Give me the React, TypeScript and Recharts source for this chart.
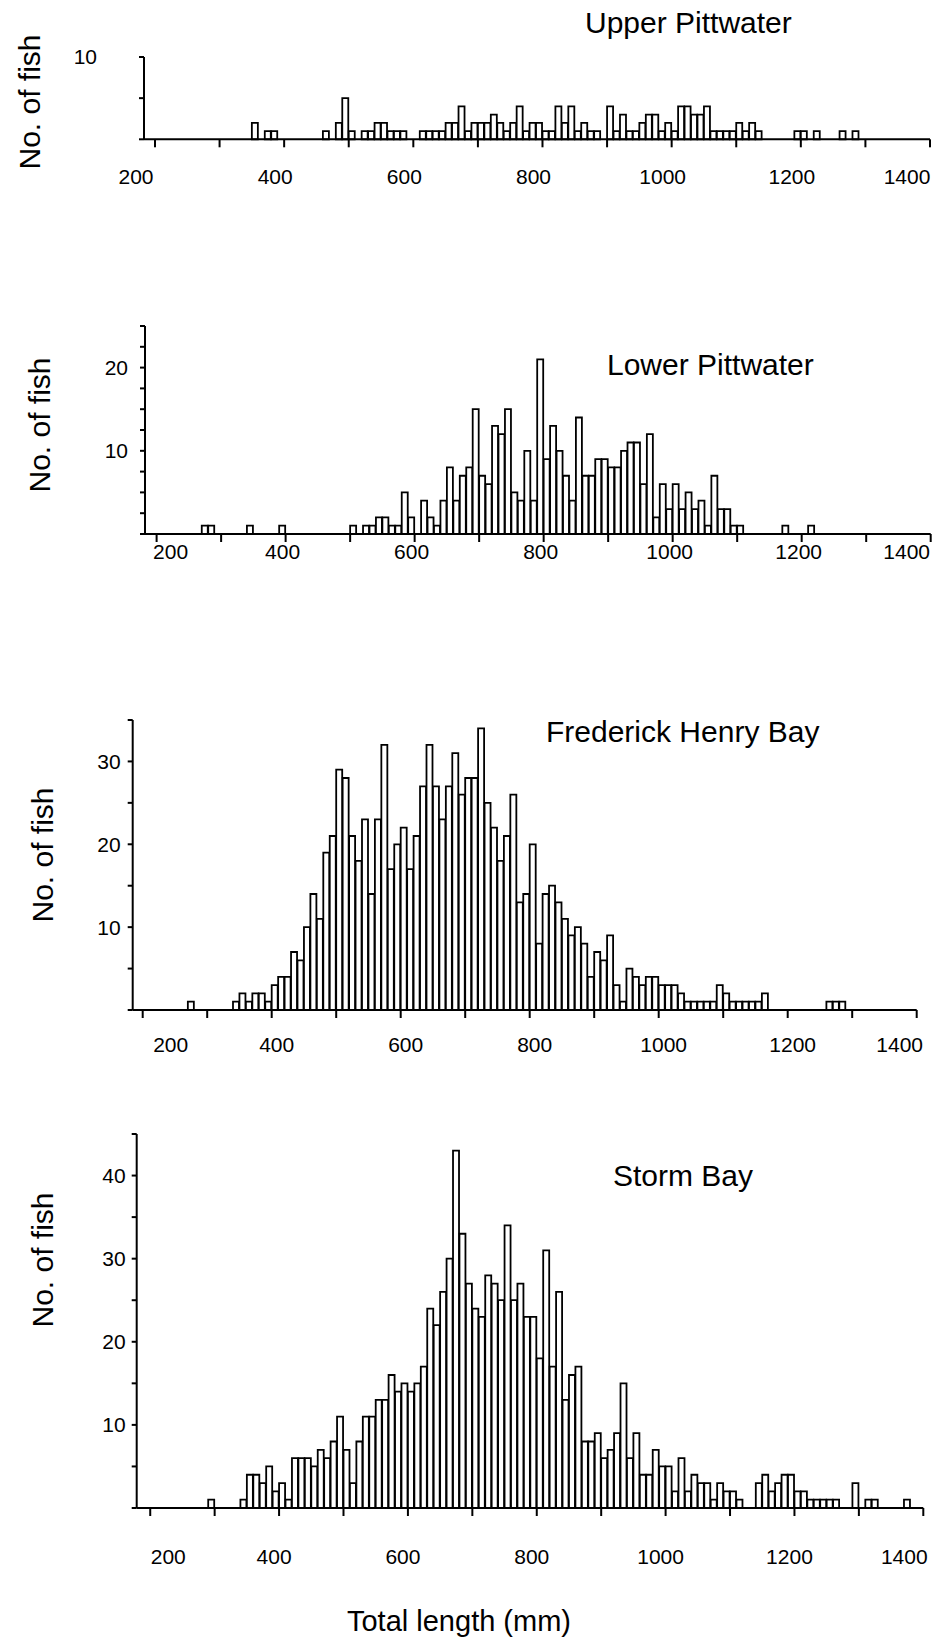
import { BarChart, Bar, XAxis, YAxis } from 'recharts'

// 10 mm length classes (class start, mm)
const bins = [
  200, 210, 220, 230, 240, 250, 260, 270, 280, 290,
  300, 310, 320, 330, 340, 350, 360, 370, 380, 390,
  400, 410, 420, 430, 440, 450, 460, 470, 480, 490,
  500, 510, 520, 530, 540, 550, 560, 570, 580, 590,
  600, 610, 620, 630, 640, 650, 660, 670, 680, 690,
  700, 710, 720, 730, 740, 750, 760, 770, 780, 790,
  800, 810, 820, 830, 840, 850, 860, 870, 880, 890,
  900, 910, 920, 930, 940, 950, 960, 970, 980, 990,
  1000, 1010, 1020, 1030, 1040, 1050, 1060, 1070, 1080, 1090,
  1100, 1110, 1120, 1130, 1140, 1150, 1160, 1170, 1180, 1190,
  1200, 1210, 1220, 1230, 1240, 1250, 1260, 1270, 1280, 1290,
  1300, 1310, 1320, 1330, 1340, 1350, 1360, 1370, 1380, 1390,
]

const upperPittwater = [
  0, 0, 0, 0, 0, 0, 0, 0, 0, 0,
  0, 0, 0, 0, 0, 2, 0, 1, 1, 0,
  0, 0, 0, 0, 0, 0, 1, 0, 2, 5,
  1, 0, 1, 1, 2, 2, 1, 1, 1, 0,
  0, 1, 1, 1, 1, 2, 2, 4, 1, 2,
  2, 2, 3, 2, 1, 2, 4, 1, 2, 2,
  1, 1, 4, 2, 4, 1, 2, 1, 1, 0,
  4, 1, 3, 1, 1, 2, 3, 3, 1, 2,
  1, 4, 4, 3, 3, 4, 1, 1, 1, 1,
  2, 1, 2, 1, 0, 0, 0, 0, 0, 1,
  1, 0, 1, 0, 0, 0, 1, 0, 1, 0,
  0, 0, 0, 0, 0, 0, 0, 0, 0, 0,
]

const lowerPittwater = [
  0, 0, 0, 0, 0, 0, 0, 1, 1, 0,
  0, 0, 0, 0, 1, 0, 0, 0, 0, 1,
  0, 0, 0, 0, 0, 0, 0, 0, 0, 0,
  1, 0, 1, 1, 2, 2, 1, 1, 5, 2,
  0, 4, 2, 1, 4, 8, 4, 7, 8, 15,
  7, 6, 13, 12, 15, 5, 4, 10, 4, 21,
  9, 13, 10, 7, 4, 14, 7, 7, 9, 9,
  8, 8, 10, 11, 11, 6, 12, 2, 6, 3,
  6, 3, 5, 3, 4, 1, 7, 3, 3, 1,
  1, 0, 0, 0, 0, 0, 0, 1, 0, 0,
  0, 1, 0, 0, 0, 0, 0, 0, 0, 0,
  0, 0, 0, 0, 0, 0, 0, 0, 0, 0,
]

const frederickHenryBay = [
  0, 0, 0, 0, 0, 0, 0, 1, 0, 0,
  0, 0, 0, 0, 1, 2, 1, 2, 2, 1,
  3, 4, 4, 7, 6, 10, 14, 11, 19, 21,
  29, 28, 21, 18, 23, 14, 23, 32, 17, 20,
  22, 17, 21, 27, 32, 27, 23, 27, 31, 26,
  28, 28, 34, 25, 22, 18, 21, 26, 13, 14,
  20, 8, 14, 15, 13, 11, 9, 10, 8, 4,
  7, 6, 9, 3, 1, 5, 4, 3, 4, 4,
  3, 3, 3, 2, 1, 1, 1, 1, 1, 3,
  2, 1, 1, 1, 1, 1, 2, 0, 0, 0,
  0, 0, 0, 0, 0, 0, 1, 1, 1, 0,
  0, 0, 0, 0, 0, 0, 0, 0, 0, 0,
]

const stormBay = [
  0, 0, 0, 0, 0, 0, 0, 0, 0, 1,
  0, 0, 0, 0, 1, 4, 4, 3, 5, 2,
  3, 1, 6, 6, 6, 5, 7, 6, 8, 11,
  7, 3, 8, 11, 11, 13, 13, 16, 14, 15,
  14, 15, 17, 24, 22, 26, 30, 43, 33, 27,
  24, 23, 28, 27, 25, 34, 25, 27, 23, 23,
  18, 31, 17, 26, 13, 16, 17, 8, 8, 9,
  6, 7, 9, 15, 6, 9, 4, 4, 7, 5,
  5, 2, 6, 2, 4, 3, 3, 1, 3, 2,
  2, 1, 0, 0, 3, 4, 2, 3, 4, 4,
  2, 2, 1, 1, 1, 1, 1, 0, 0, 3,
  0, 1, 1, 0, 0, 0, 0, 1, 0, 0,
]

const lengthTicks = [200, 300, 400, 500, 600, 700, 800, 900, 1000, 1100, 1200, 1300, 1400]
const lengthLabels = [200, 400, 600, 800, 1000, 1200, 1400]

const upperTicks = [0, 5, 10]
const upperLabels = [10]
const lowerTicks = [0, 2.5, 5, 7.5, 10, 12.5, 15, 17.5, 20, 22.5, 25]
const lowerLabels = [10, 20]
const fhbTicks = [0, 5, 10, 15, 20, 25, 30, 35]
const fhbLabels = [10, 20, 30]
const stormTicks = [0, 5, 10, 15, 20, 25, 30, 35, 40, 45]
const stormLabels = [10, 20, 30, 40]

const FONT = '"Liberation Sans", Arial, Helvetica, sans-serif'
const W = 944
const Y_AXIS_W = 60
const TOP_PAD = 24

const panels = [
  {
    title: 'Upper Pittwater', counts: upperPittwater, yTicks: upperTicks, yLabels: upperLabels, yMax: 10,
    xMin: 183, plotLeft: 144, plotRight: 930, plotTop: 56.7, plotBottom: 139,
    titleX: 585, titleY: 33, yTitleX: 29, yTitleY: 102,
    yLabelDx: -47, xLabelDrop: 37, firstDx: -19, midDx: -9, lastDx: -23,
  },
  {
    title: 'Lower Pittwater', counts: lowerPittwater, yTicks: lowerTicks, yLabels: lowerLabels, yMax: 25,
    xMin: 182, plotLeft: 145, plotRight: 930.7, plotTop: 326, plotBottom: 534,
    titleX: 607, titleY: 375, yTitleX: 39, yTitleY: 425,
    yLabelDx: -17, xLabelDrop: 17, firstDx: 14, midDx: -3, lastDx: -24,
  },
  {
    title: 'Frederick Henry Bay', counts: frederickHenryBay, yTicks: fhbTicks, yLabels: fhbLabels, yMax: 35,
    xMin: 184.5, plotLeft: 132.7, plotRight: 916.7, plotTop: 720, plotBottom: 1010,
    titleX: 546, titleY: 742, yTitleX: 42, yTitleY: 855,
    yLabelDx: -12, xLabelDrop: 34, firstDx: 28, midDx: 5, lastDx: -17,
  },
  {
    title: 'Storm Bay', counts: stormBay, yTicks: stormTicks, yLabels: stormLabels, yMax: 45,
    xMin: 179, plotLeft: 136.7, plotRight: 923.3, plotTop: 1134.3, plotBottom: 1508.3,
    titleX: 613, titleY: 1186, yTitleX: 42, yTitleY: 1260,
    yLabelDx: -11, xLabelDrop: 48, firstDx: 18, midDx: -5, lastDx: -19,
  },
]

type PanelCfg = (typeof panels)[number]

function Panel({ p }: { p: PanelCfg }) {
  const data = bins.map((b, i) => ({ x: b + 5, count: p.counts[i] }))
  const top = p.plotTop - TOP_PAD
  const xAxisH = 70
  const height = p.plotBottom - p.plotTop + TOP_PAD + xAxisH + 4

  const xTick = (props: any) => {
    const { x, y, payload } = props
    const v = payload.value
    if (!lengthLabels.includes(v)) return <g />
    const dx = v === 200 ? p.firstDx : v === 1400 ? p.lastDx : p.midDx
    return (
      <text x={x + dx} y={y - 8 + p.xLabelDrop} textAnchor="middle" dominantBaseline="central"
        fontSize={21} fontFamily={FONT} fill="#000">{v}</text>
    )
  }

  const yTick = (props: any) => {
    const { x, y, payload } = props
    const v = payload.value
    if (!p.yLabels.includes(v)) return <g />
    return (
      <text x={x + 5 + p.yLabelDx} y={y} textAnchor="end" dominantBaseline="central"
        fontSize={21} fontFamily={FONT} fill="#000">{v}</text>
    )
  }

  return (
    <div style={{ position: 'absolute', left: 0, top, width: W, height }}>
      <BarChart
        width={W}
        height={height}
        data={data}
        barCategoryGap={0}
        barGap={0}
        margin={{ top: TOP_PAD, right: W - p.plotRight, bottom: 4, left: p.plotLeft - Y_AXIS_W }}
      >
        <XAxis
          type="number"
          dataKey="x"
          domain={[p.xMin, 1400]}
          ticks={lengthTicks}
          interval={0}
          allowDataOverflow
          height={xAxisH}
          tickSize={8}
          tickMargin={0}
          axisLine={{ stroke: '#000', strokeWidth: 2 }}
          tickLine={{ stroke: '#000', strokeWidth: 2 }}
          tick={xTick}
        />
        <YAxis
          type="number"
          domain={[0, p.yMax]}
          ticks={p.yTicks}
          interval={0}
          width={Y_AXIS_W}
          tickSize={5}
          tickMargin={0}
          axisLine={{ stroke: '#000', strokeWidth: 2 }}
          tickLine={{ stroke: '#000', strokeWidth: 2 }}
          tick={yTick}
        />
        <Bar dataKey="count" fill="#fff" stroke="#000" strokeWidth={1.8} isAnimationActive={false} />
      </BarChart>
    </div>
  )
}

export default function App() {
  return (
    <div style={{ position: 'absolute', left: 0, top: 0, width: W, height: 1644, background: '#fff' }}>
      {panels.map((p) => (
        <Panel key={p.title} p={p} />
      ))}
      <svg width={W} height={1644} style={{ position: 'absolute', left: 0, top: 0, pointerEvents: 'none' }}>
        {panels.map((p) => (
          <g key={p.title}>
            <text x={p.titleX} y={p.titleY} fontSize={30} fontFamily={FONT} fill="#000">{p.title}</text>
            <text
              x={p.yTitleX}
              y={p.yTitleY}
              fontSize={30}
              fontFamily={FONT}
              fill="#000"
              textAnchor="middle"
              dominantBaseline="central"
              transform={`rotate(-90, ${p.yTitleX}, ${p.yTitleY})`}
            >
              No. of fish
            </text>
          </g>
        ))}
        <text x={459} y={1621} fontSize={29} fontFamily={FONT} fill="#000" textAnchor="middle" dominantBaseline="central">
          Total length (mm)
        </text>
      </svg>
    </div>
  )
}
